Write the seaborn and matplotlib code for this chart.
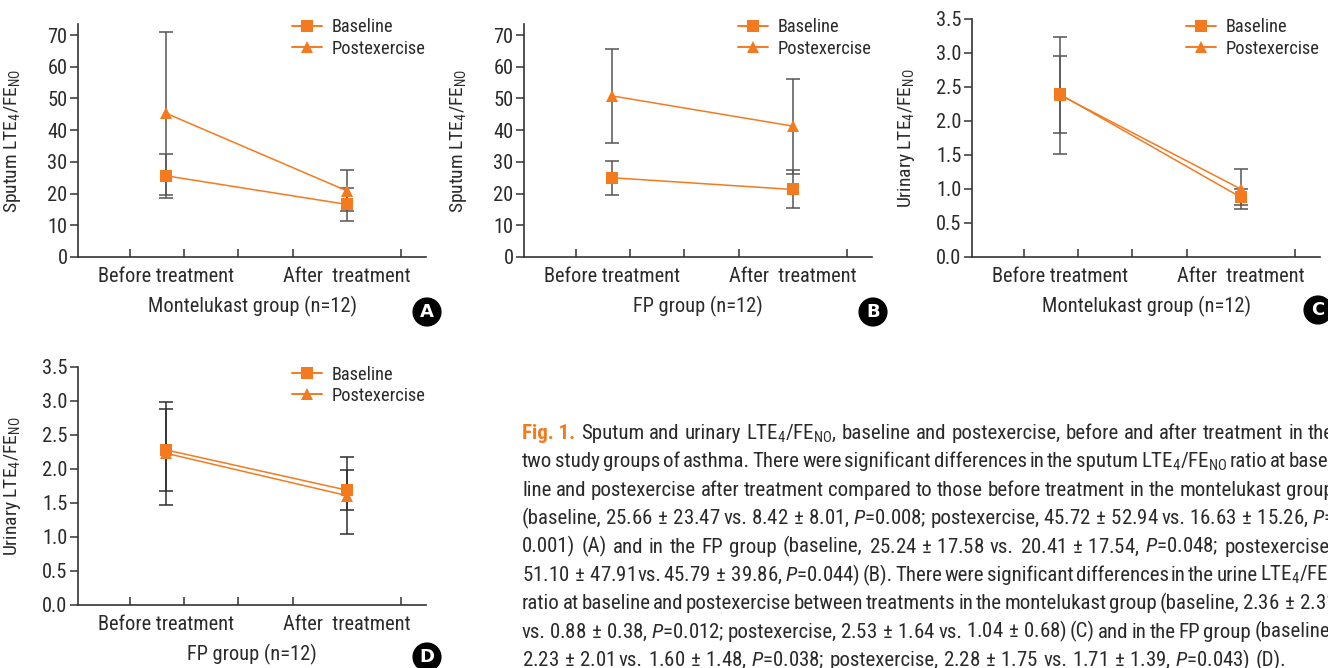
import numpy as np
import pandas as pd
import matplotlib
matplotlib.use('Agg')
import matplotlib.pyplot as plt
from matplotlib import font_manager as fm
from matplotlib.lines import Line2D
import seaborn as sns

# categories
times = ['Before treatment', 'After  treatment']
conditions = ['Baseline', 'Postexercise']

# A - sputum, montelukast group
a_base = [25.6, 16.6]
a_base_err = [7.0, 5.3]
a_post = [45.3, 20.9]
a_post_err = [25.7, 6.4]

# B - sputum, FP group
b_base = [25.0, 21.3]
b_base_err = [5.4, 6.0]
b_post = [50.8, 41.3]
b_post_err = [14.8, 15.0]

# C - urinary, montelukast group
c_base = [2.39, 0.88]
c_base_err = [0.56, 0.12]
c_post = [2.38, 1.00]
c_post_err = [0.86, 0.29]

# D - urinary, FP group
d_base = [2.28, 1.69]
d_base_err = [0.60, 0.29]
d_post = [2.23, 1.61]
d_post_err = [0.76, 0.56]

sputum_ticks = [0, 10, 20, 30, 40, 50, 60, 70]
urine_ticks = [0.0, 0.5, 1.0, 1.5, 2.0, 2.5, 3.0, 3.5]

caption_lines = [
    r'Sputum and urinary LTE$_\mathrm{4}$/FE$_\mathrm{NO}$, baseline and postexercise, before and after treatment in the',
    r'two study groups of asthma. There were significant differences in the sputum LTE$_\mathrm{4}$/FE$_\mathrm{NO}$ ratio at base-',
    r'line and postexercise after treatment compared to those before treatment in the montelukast group',
    r'(baseline, 25.66$\,\pm\,$23.47 vs. 8.42$\,\pm\,$8.01, $\mathit{P}$=0.008; postexercise, 45.72$\,\pm\,$52.94 vs. 16.63$\,\pm\,$15.26, $\mathit{P}$=',
    r'0.001) (A) and in the FP group (baseline, 25.24$\,\pm\,$17.58 vs. 20.41$\,\pm\,$17.54, $\mathit{P}$=0.048; postexercise,',
    r'51.10$\,\pm\,$47.91 vs. 45.79$\,\pm\,$39.86, $\mathit{P}$=0.044) (B). There were significant differences in the urine LTE$_\mathrm{4}$/FE$_\mathrm{NO}$',
    r'ratio at baseline and postexercise between treatments in the montelukast group (baseline, 2.36$\,\pm\,$2.31',
    r'vs. 0.88$\,\pm\,$0.38, $\mathit{P}$=0.012; postexercise, 2.53$\,\pm\,$1.64 vs. 1.04$\,\pm\,$0.68) (C) and in the FP group (baseline,',
    r'2.23$\,\pm\,$2.01 vs. 1.60$\,\pm\,$1.48, $\mathit{P}$=0.038; postexercise, 2.28$\,\pm\,$1.75 vs. 1.71$\,\pm\,$1.39, $\mathit{P}$=0.043) (D).',
]

ORANGE = '#f47a20'
TXT = '#2a2a2a'
FS = 14.7

sns.set_style('ticks')

# pick a condensed sans if one is installed
fonts = fm.fontManager.ttflist
names = {f.name for f in fonts}
FONT, STRETCH = 'DejaVu Sans', 'normal'
for cand in ['Roboto Condensed', 'Liberation Sans Narrow', 'Open Sans Condensed',
             'Noto Sans Condensed', 'Arial Narrow']:
    if cand in names:
        FONT = cand
        break
else:
    for fam in ['Roboto', 'Noto Sans', 'Open Sans', 'DejaVu Sans']:
        if any(f.name == fam and f.stretch in ('condensed', 'semi-condensed')
               for f in fonts):
            FONT, STRETCH = fam, 'condensed'
            break

plt.rcParams['font.family'] = [FONT, 'DejaVu Sans']
plt.rcParams['font.stretch'] = STRETCH
plt.rcParams['mathtext.fontset'] = 'custom'
plt.rcParams['mathtext.rm'] = f'{FONT}:stretch={STRETCH}'
plt.rcParams['mathtext.it'] = f'{FONT}:italic:stretch={STRETCH}'
plt.rcParams['mathtext.bf'] = f'{FONT}:bold:stretch={STRETCH}'
plt.rcParams['text.color'] = TXT
plt.rcParams['axes.labelcolor'] = TXT
plt.rcParams['xtick.color'] = TXT
plt.rcParams['ytick.color'] = TXT

W, H = 1328, 668
fig = plt.figure(figsize=(W / 100, H / 100), dpi=100)


def px_axes(left, right, top, bottom):
    return fig.add_axes([left / W, 1 - bottom / H, (right - left) / W, (bottom - top) / H])


def panel(ax, base, base_err, post, post_err, yticks, ylabel, xlabel, leg_y,
          ecolor='#555555'):
    df = pd.DataFrame({
        'time': times * 2,
        'condition': [c for c in conditions for _ in times],
        'value': base + post,
    })
    sns.pointplot(data=df, x='time', y='value', hue='condition',
                  order=times, hue_order=conditions,
                  markers=['s', '^'], linestyles=['-', '-'],
                  palette=[ORANGE, ORANGE], errorbar=None, legend=False,
                  markersize=8, linewidth=1.1, markeredgewidth=0, ax=ax)
    pos = np.arange(len(times))
    for vals, errs in [(base, base_err), (post, post_err)]:
        ax.errorbar(pos, vals, yerr=errs, fmt='none', ecolor=ecolor,
                    elinewidth=1.1, capsize=5, capthick=1.1, zorder=1)
    for ln in ax.lines:
        if ln.get_marker() in ('s', '^'):
            ln.set_zorder(3)

    ax.set_xlim(-0.49, 1.44)
    ax.set_ylim(0, yticks[-1] * 1.05 if yticks[-1] > 10 else yticks[-1])
    ax.set_yticks(yticks)
    if isinstance(yticks[0], float):
        ax.set_yticklabels([f'{t:.1f}' for t in yticks])
    ax.set_xticks(pos)
    ax.set_xticklabels(times)
    ax.set_xticks([-0.2, 0.1, 0.4, 0.7, 1.0, 1.3], minor=True)
    ax.tick_params(axis='x', which='major', length=0, pad=7.5, labelsize=FS)
    ax.tick_params(axis='x', which='minor', direction='in', length=6,
                   width=1.1, color='#333333')
    ax.tick_params(axis='y', direction='out', length=6, width=1.1,
                   pad=1.5, labelsize=FS, color='#333333')
    sns.despine(ax=ax)
    for s in ['left', 'bottom']:
        ax.spines[s].set_linewidth(1.2)
        ax.spines[s].set_color('#333333')
    ax.set_xlabel(xlabel, fontsize=FS, labelpad=7)
    ax.set_ylabel(ylabel, fontsize=14)
    ax.yaxis.set_label_coords(-0.157, 0.5)

    handles = [Line2D([], [], color=ORANGE, marker=m, markersize=8.5,
                      markeredgewidth=0, lw=1.4) for m in ['s', '^']]
    ax.legend(handles, conditions, loc='upper left',
              bbox_to_anchor=(0.615, leg_y), frameon=False, fontsize=13.2,
              handlelength=1.65, handletextpad=0.5, labelspacing=0.18,
              borderpad=0, borderaxespad=0)


sput_label = r'Sputum LTE$_\mathrm{4}$/FE$_\mathrm{NO}$'
urin_label = r'Urinary LTE$_\mathrm{4}$/FE$_\mathrm{NO}$'

axA = px_axes(78, 426, 24, 257)
panel(axA, a_base, a_base_err, a_post, a_post_err, sputum_ticks,
      sput_label, 'Montelukast group (n=12)', 1.024)
axB = px_axes(524, 872, 24, 257)
panel(axB, b_base, b_base_err, b_post, b_post_err, sputum_ticks,
      sput_label, 'FP group (n=12)', 1.024)
axC = px_axes(972, 1320, 19, 257)
panel(axC, c_base, c_base_err, c_post, c_post_err, urine_ticks,
      urin_label, 'Montelukast group (n=12)', 1.003)
axD = px_axes(78, 426, 367, 605)
panel(axD, d_base, d_base_err, d_post, d_post_err, urine_ticks,
      urin_label, 'FP group (n=12)', 1.006, ecolor='#2e2e2e')

# panel letters
for letter, x, y in [('A', 427, 312), ('B', 873, 312), ('C', 1318, 310), ('D', 427, 657)]:
    fig.text(x / W, 1 - y / H, letter, color='white', fontsize=13,
             fontweight='bold', family='DejaVu Sans', ha='center', va='center',
             bbox=dict(boxstyle='circle,pad=0.27', fc='black', ec='black'))

# caption, justified to a right margin just past the figure edge
CFS = 15
RIGHT = 1334
renderer = fig.canvas.get_renderer()


def text_w(s):
    t = fig.text(0, 0, s, fontsize=CFS)
    w = t.get_window_extent(renderer).width
    t.remove()
    return w


space_w = text_w('a a') - 2 * text_w('a')
t_fig = fig.text(522 / W, 1 - 439 / H, 'Fig. 1.', color=ORANGE, fontsize=CFS,
                 fontweight='bold', va='baseline', ha='left')
x_after = t_fig.get_window_extent(renderer).x1 + space_w + 1
for i, line in enumerate(caption_lines):
    x0 = x_after if i == 0 else 522
    words = line.split(' ')
    widths = [text_w(w) for w in words]
    if i < len(caption_lines) - 1 and len(words) > 1:
        gap = (RIGHT - x0 - sum(widths)) / (len(words) - 1)
        gap = max(gap, 0.5 * space_w)
    else:
        gap = space_w
    y = 1 - (439 + i * 28.4) / H
    x = x0
    for w, wd in zip(words, widths):
        fig.text(x / W, y, w, fontsize=CFS, va='baseline', ha='left', color=TXT)
        x += wd + gap

fig.savefig('out.png', dpi=100)
